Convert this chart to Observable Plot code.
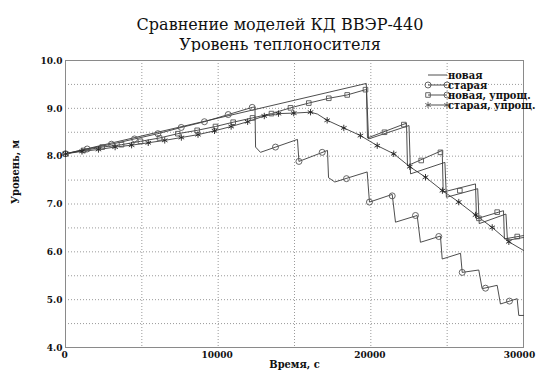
<!DOCTYPE html>
<html><head><meta charset="utf-8">
<script src="https://cdn.jsdelivr.net/npm/d3@7"></script>
<script src="https://cdn.jsdelivr.net/npm/@observablehq/plot@0.6"></script>
<style>
body{margin:0;background:#fff;width:536px;height:374px;overflow:hidden;font-family:"DejaVu Serif",serif;position:relative;}
#title{position:absolute;left:0;top:15px;width:536px;padding-left:24px;box-sizing:border-box;text-align:center;font-size:16px;line-height:20px;color:#111;}
#chart{position:absolute;left:0;top:52px;}
#legend{position:absolute;left:0;top:0;pointer-events:none;}
</style></head><body>
<div id="title">Сравнение моделей КД ВВЭР-440<br>Уровень теплоносителя</div>
<div id="chart"></div>
<svg id="legend" width="536" height="374"></svg>
<script>
// ---- data (time, s ; level, m) ----
const seriesNames = ["новая", "старая", "новая, упрощ.", "старая, упрощ."];

const newLine = [[0,8.05],[19700,9.52],[19850,8.36],[22500,8.64],[22600,7.63],[24850,7.87],[24950,7.14],[27000,7.32],[27100,6.59],[28850,6.79],[28950,6.24],[30000,6.30]];

const oldLine = [[0,8.05],[1420,8.15],[3010,8.25],[4520,8.36],[6050,8.47],[7580,8.60],[9100,8.72],[10660,8.87],[12230,9.02],[12410,9.03],[12450,8.19],[12770,8.08],[15195,8.35],[15290,7.89],[17160,8.12],[17230,7.55],[17640,7.46],[19760,7.67],[19910,7.04],[21400,7.20],[21615,6.62],[23035,6.76],[23250,6.20],[24560,6.33],[24675,5.85],[25875,5.97],[25985,5.57],[27070,5.62],[27290,5.23],[28275,5.30],[28490,4.91],[29585,5.02],[29690,4.67],[30000,4.67]];
const oldMarks = [[0,8.05],[1420,8.15],[3010,8.25],[4520,8.36],[6050,8.47],[7580,8.60],[9100,8.72],[10660,8.87],[12230,9.02],[13755,8.19],[15290,7.89],[16814,8.08],[18405,7.53],[19910,7.04],[21400,7.17],[22925,6.76],[24450,6.32],[25985,5.57],[27510,5.24],[29080,4.97]];

const newSimpLine = [[0,8.05],[2404,8.19],[3668,8.24],[4912,8.31],[6157,8.38],[7356,8.47],[8626,8.54],[9825,8.62],[10984,8.71],[12250,8.80],[13493,8.89],[14738,9.01],[15936,9.11],[17246,9.21],[18451,9.28],[19650,9.39],[19716,9.40],[19780,8.38],[22336,8.69],[22400,7.80],[24675,8.12],[24740,7.25],[26855,7.42],[26920,6.69],[28690,6.86],[28750,6.27],[30000,6.34]];
const newSimpMarks = [[0,8.05],[1180,8.12],[2404,8.19],[3668,8.24],[4912,8.31],[6157,8.38],[7356,8.47],[8626,8.54],[9825,8.62],[10984,8.71],[12250,8.80],[13493,8.89],[14738,9.01],[15936,9.11],[17246,9.21],[18451,9.28],[19650,9.39],[20895,8.50],[22160,8.66],[23300,7.91],[24560,8.08],[25830,7.28],[27080,6.70],[28275,6.83],[29590,6.32]];

const oldSimpLine = [[0,8.05],[1080,8.10],[2160,8.14],[3250,8.19],[4330,8.23],[5420,8.28],[6500,8.33],[7590,8.39],[8680,8.45],[9760,8.53],[10850,8.62],[11930,8.72],[13020,8.84],[13950,8.89],[14950,8.90],[16050,8.92],[16500,8.88],[17140,8.75],[18230,8.59],[19320,8.43],[20420,8.22],[21500,8.05],[22550,7.78],[23580,7.56],[24690,7.28],[25760,7.04],[26860,6.77],[27950,6.51],[29040,6.21],[30000,6.03]];
const oldSimpMarks = oldSimpLine.filter(d => d[0] !== 16500 && d[0] !== 30000);

const xTicks = [0, 10000, 20000];
const xTickLast = [30000];
const yTicks = [4, 5, 6, 7, 8, 9, 10];
const xGrid = [5000, 10000, 15000, 20000, 25000];
const yGrid = [4.5, 5, 5.5, 6, 6.5, 7, 7.5, 8, 8.5, 9, 9.5];

const ink = "#3a3a3a";
const markInk = "#555";
const font = "DejaVu Serif Condensed";

const plot = Plot.plot({
  width: 536, height: 322,
  marginLeft: 65, marginRight: 13, marginTop: 8, marginBottom: 27,
  x: {domain: [0, 30000]},
  y: {domain: [4, 10]},
  style: {fontFamily: font, fontSize: "10px", color: "#111", background: "#fff"},
  marks: [
    Plot.ruleX(xGrid, {stroke: "#9a9a9a", strokeDasharray: "1,2", strokeWidth: 1}),
    Plot.ruleY(yGrid, {stroke: "#9a9a9a", strokeDasharray: "1,2", strokeWidth: 1}),
    Plot.frame({stroke: "#8a8a8a"}),
    Plot.axisX(xTicks, {tickSize: 0, tickPadding: 3, tickFormat: d => String(d), fontWeight: "bold", fontSize: 10, dx: -1, label: null}),
    Plot.axisX(xTickLast, {tickSize: 0, tickPadding: 3, tickFormat: d => String(d), fontWeight: "bold", fontSize: 10, dx: -4, label: null}),
    Plot.axisY(yTicks, {tickSize: 0, tickPadding: 3, tickFormat: d3.format(".1f"), fontWeight: "bold", fontSize: 10, label: null}),
    Plot.text(["Время, с"], {frameAnchor: "bottom", dy: 20, fontSize: 11, fontWeight: "bold", fill: "#111"}),
    Plot.text(["Уровень, м"], {frameAnchor: "left", dx: -50, rotate: -90, fontSize: 11, fontWeight: "bold", fill: "#111"}),
    Plot.line(oldLine, {x: d => d[0], y: d => d[1], stroke: ink, strokeWidth: 0.9}),
    Plot.line(newLine, {x: d => d[0], y: d => d[1], stroke: ink, strokeWidth: 0.9}),
    Plot.line(newSimpLine, {x: d => d[0], y: d => d[1], stroke: ink, strokeWidth: 0.9}),
    Plot.line(oldSimpLine, {x: d => d[0], y: d => d[1], stroke: ink, strokeWidth: 0.9}),
    Plot.dot(oldMarks, {x: d => d[0], y: d => d[1], symbol: "circle", r: 3, stroke: markInk, strokeWidth: 0.9, fill: "none"}),
    Plot.dot(newSimpMarks, {x: d => d[0], y: d => d[1], symbol: "square", r: 2.6, stroke: markInk, strokeWidth: 0.9, fill: "none"}),
    Plot.dot(oldSimpMarks, {x: d => d[0], y: d => d[1], symbol: "asterisk", r: 3, stroke: "#222", strokeWidth: 0.9, fill: "none"})
  ]
});
document.getElementById("chart").appendChild(plot);

// ---- legend overlay ----
const lg = d3.select("#legend");
const legendSymbols = [[null, null], [d3.symbolCircle, d3.symbolCircle], [d3.symbolSquare, d3.symbolCircle], [d3.symbolAsterisk, d3.symbolAsterisk]];
seriesNames.forEach((name, i) => {
  const cy = 75 + i * 10;
  const g = lg.append("g");
  g.append("line").attr("x1", 428).attr("x2", 447).attr("y1", cy).attr("y2", cy).attr("stroke", ink).attr("stroke-width", 0.9);
  const [s1, s2] = legendSymbols[i];
  if (s1) g.append("path").attr("d", d3.symbol(s1, s1 === d3.symbolSquare ? 21 : 28)()).attr("transform", `translate(428,${cy})`).attr("fill", "none").attr("stroke", markInk).attr("stroke-width", 0.9);
  if (s2) g.append("path").attr("d", d3.symbol(s2, 28)()).attr("transform", `translate(447,${cy})`).attr("fill", "none").attr("stroke", markInk).attr("stroke-width", 0.9);
  g.append("text").attr("x", 448).attr("y", cy).attr("dy", "0.35em").attr("font-family", font).attr("font-weight", "bold").attr("font-size", 11).attr("fill", "#111").text(name);
});
</script>
</body></html>
